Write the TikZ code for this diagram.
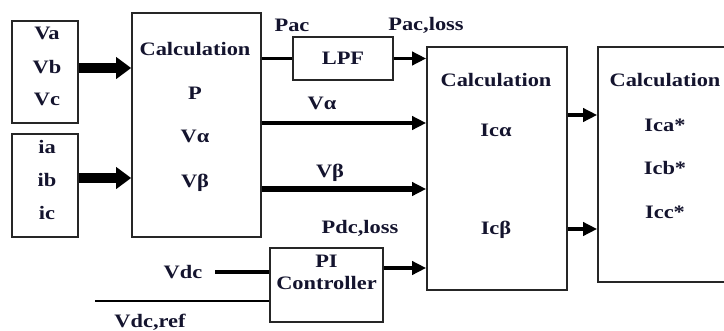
\documentclass[tikz,border=0pt]{standalone}
\usepackage{fontspec}
\setmainfont{Liberation Serif}[FakeStretch=1.18]
\usetikzlibrary{arrows.meta}
\definecolor{txt}{rgb}{0.08,0.08,0.18}
\tikzset{
  blk/.style={draw=black!85, line width=1.6pt, minimum width=#1, inner sep=0pt},
  lbl/.style={inner sep=0pt, text=txt, font=\fontsize{19}{22}\selectfont\bfseries},
  conn/.style={line width=3.5pt, -{Triangle[length=14pt,width=13pt]}},
  plain/.style={line width=3.5pt},
  fat/.style={line width=10pt, -{Triangle[length=15pt,width=21pt]}},
}
\begin{document}
\begin{tikzpicture}[x=1pt,y=-1pt]
\useasboundingbox (0,0) rectangle (724,330);
% boxes
\node[blk=66pt, minimum height=102pt] (vbox) at (45,72) {};
\node[blk=66pt, minimum height=103pt] (ibox) at (45,185.5) {};
\node[blk=129pt, minimum height=224pt] (calc1) at (196.5,125) {};
\node[blk=100pt, minimum height=43pt] (lpf) at (343,58.5) {};
\node[blk=113pt, minimum height=74pt] (pi) at (326.5,285) {};
\node[blk=140pt, minimum height=243pt] (calc2) at (497,168.5) {};
\node[blk=152pt, minimum height=235pt] (calc3) at (674,164.5) {};
% box texts
\node[lbl] (va) at (47,33) {Va};
\node[lbl] (vb) at (47,67) {Vb};
\node[lbl] (vc) at (47,99) {Vc};
\node[lbl] (ia) at (47,147) {ia};
\node[lbl] (ib) at (47,180) {ib};
\node[lbl] (ic) at (47,213) {ic};
\node[lbl] (c1t) at (195,49) {Calculation};
\node[lbl] (c1p) at (195,93) {P};
\node[lbl] (c1a) at (195,136) {Vα};
\node[lbl] (c1b) at (195,183) {Vβ};
\node[lbl] (lpft) at (343,58.5) {LPF};
\node[lbl] (pit) at (326.5,261) {PI};
\node[lbl] (pict) at (326.5,283) {Controller};
\node[lbl] (c2t) at (496,80) {Calculation};
\node[lbl] (c2a) at (496,130) {Icα};
\node[lbl] (c2b) at (496,230) {Icβ};
\node[lbl] (c3t) at (665,80) {Calculation};
\node[lbl] (c3a) at (665,125) {Ica*};
\node[lbl] (c3b) at (665,168) {Icb*};
\node[lbl] (c3c) at (665,212) {Icc*};
% signal labels
\node[lbl] (pac) at (292,25) {Pac};
\node[lbl] (pacl) at (426,25) {Pac,loss};
\node[lbl] (sva) at (322,103) {Vα};
\node[lbl] (svb) at (330,173) {Vβ};
\node[lbl] (pdcl) at (360,228) {Pdc,loss};
\node[lbl] (vdc) at (183,272) {Vdc};
\node[lbl] (vdcref) at (150,322) {Vdc,ref};
% helper coordinates
\coordinate (yv) at (0,68);
\coordinate (yi) at (0,178);
\coordinate (ya) at (0,123);
\coordinate (yb) at (0,189);
\coordinate (yp) at (0,268);
\coordinate (y3a) at (0,115);
\coordinate (y3b) at (0,229);
\coordinate (vdcstart) at (215,272);
\coordinate (refstart) at (95,301);
% connectors
\draw[fat] (vbox.east |- yv) -- (calc1.west |- yv);
\draw[fat] (ibox.east |- yi) -- (calc1.west |- yi);
\draw[plain] (calc1.east |- lpf.west) -- (lpf.west);
\draw[conn] (lpf.east) -- (calc2.west |- lpf.east);
\draw[conn] (calc1.east |- ya) -- (calc2.west |- ya);
\draw[conn, line width=5.5pt] (calc1.east |- yb) -- (calc2.west |- yb);
\draw[conn] (pi.east |- yp) -- (calc2.west |- yp);
\draw[plain] (vdcstart) -- (pi.west |- vdcstart);
\draw[plain, line width=2.5pt] (refstart) -- (pi.west |- refstart);
\draw[conn, line width=4.5pt] (calc2.east |- y3a) -- (calc3.west |- y3a);
\draw[conn, line width=4.5pt] (calc2.east |- y3b) -- (calc3.west |- y3b);
\end{tikzpicture}
\end{document}
